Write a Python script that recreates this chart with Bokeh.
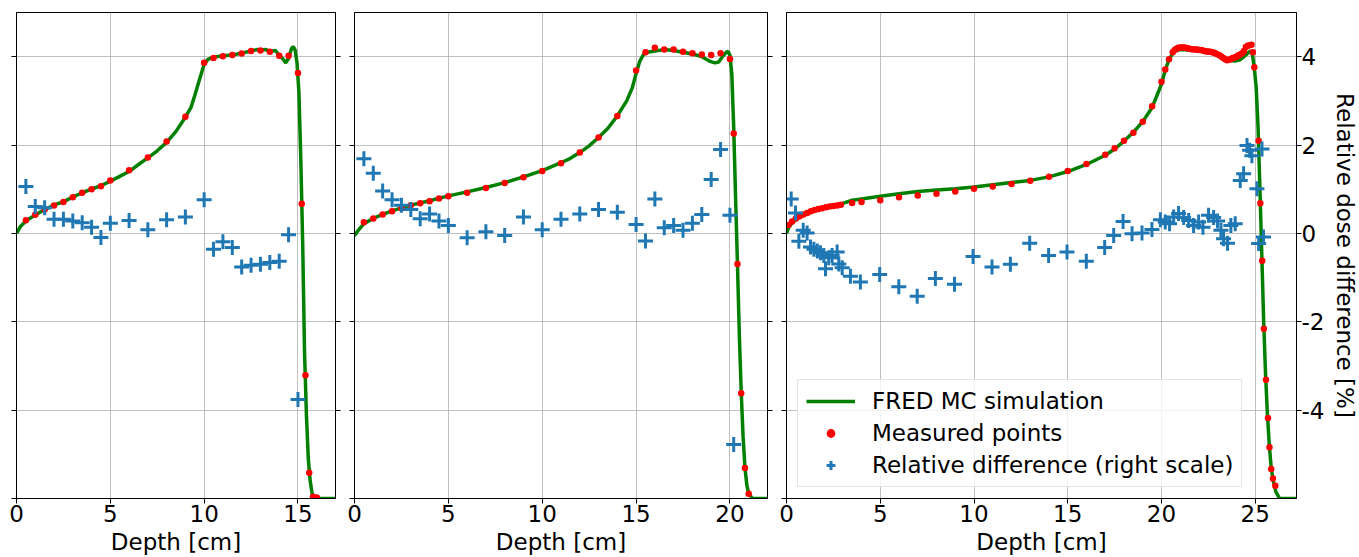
from bokeh.plotting import figure
from bokeh.models import (Range1d, LinearAxis, FixedTicker, SingleIntervalTicker,
                          Legend, LegendItem)
from bokeh.layouts import row
from bokeh.embed import file_html
from bokeh.resources import INLINE

# ---------------- data ----------------
# Panel 1
sim1_x = [0, 0.2, 0.5, 1, 1.5, 2, 2.5, 3, 3.5, 4, 4.5, 5, 5.5, 6, 6.5, 7, 7.5, 8, 8.5, 9,
          9.3, 9.5, 9.8, 10.0, 10.2, 10.5, 11, 11.5, 12, 12.5, 12.8, 13, 13.3, 13.5, 13.8,
          14.0, 14.2, 14.35, 14.5, 14.65, 14.75, 14.85, 14.95, 15.05, 15.15, 15.25, 15.35,
          15.45, 15.55, 15.65, 15.75, 15.85, 16.0, 17.0]
sim1_d = [0.600, 0.615, 0.628, 0.642, 0.654, 0.664, 0.672, 0.682, 0.692, 0.700, 0.708, 0.718,
          0.729, 0.740, 0.756, 0.771, 0.787, 0.806, 0.831, 0.863,
          0.885, 0.912, 0.955, 0.983, 0.994, 0.999, 1.002, 1.004, 1.008, 1.013, 1.016, 1.015,
          1.016, 1.012, 1.014,
          1.003, 0.995, 0.986, 0.996, 1.018, 1.023, 1.015, 0.985, 0.920, 0.770, 0.580, 0.330,
          0.190, 0.090, 0.040, 0.012, 0.004, 0.0, 0.0]
meas1_x = [0.5, 1.0, 1.5, 2.0, 2.5, 3.0, 3.5, 4.0, 4.5, 5.0, 6.0, 7.0, 8.0, 9.0, 10.0, 10.5,
           11.0, 11.5, 12.0, 12.5, 13.0, 13.5, 14.0, 14.5, 15.0, 15.2, 15.4, 15.6, 15.8, 16.0]
meas1_d = [0.630, 0.642, 0.654, 0.663, 0.671, 0.682, 0.692, 0.700, 0.707, 0.720, 0.743, 0.772,
           0.808, 0.864, 0.986, 0.997, 1.001, 1.004, 1.007, 1.013, 1.014, 1.011, 1.002, 1.002,
           0.963, 0.667, 0.279, 0.058, 0.004, 0.002]
diff1_x = [0.5, 1.0, 1.5, 2.0, 2.5, 3.0, 3.5, 4.0, 4.5, 5.0, 6.0, 7.0, 8.0, 9.0, 10.0, 10.5,
           11.0, 11.5, 12.0, 12.5, 13.0, 13.5, 14.0, 14.5, 15.0]
diff1_v = [1.06, 0.61, 0.58, 0.32, 0.32, 0.28, 0.24, 0.14, -0.09, 0.23, 0.29, 0.08, 0.31, 0.37,
           0.76, -0.36, -0.19, -0.32, -0.76, -0.72, -0.70, -0.66, -0.63, -0.03, -3.76]

# Panel 2
sim2_x = [0, 0.2, 0.5, 1, 1.5, 2, 3, 4, 5, 6, 7, 8, 9, 10, 11, 11.5, 12, 12.5, 13, 13.5,
          14, 14.5, 14.8, 15.0, 15.2, 15.4, 15.6, 16, 16.5, 17, 17.5, 18, 18.5, 18.9, 19.2,
          19.4, 19.6, 19.8, 19.9, 20.0, 20.1, 20.2, 20.3, 20.4, 20.5, 20.6, 20.7, 20.8, 20.9,
          21.0, 21.2, 22]
sim2_d = [0.595, 0.607, 0.622, 0.634, 0.643, 0.651, 0.664, 0.674, 0.685, 0.694, 0.704, 0.715,
          0.728, 0.742, 0.760, 0.770, 0.783, 0.798, 0.817, 0.838, 0.866, 0.900, 0.930, 0.962,
          0.990, 1.005, 1.010, 1.013, 1.016, 1.014, 1.010, 1.006, 1.000, 0.990, 0.986, 0.988,
          1.000, 1.010, 1.012, 1.003, 0.960, 0.840, 0.680, 0.530, 0.370, 0.240, 0.140, 0.070,
          0.030, 0.011, 0.0, 0.0]
meas2_x = [0.5, 1, 1.5, 2, 2.5, 3, 3.5, 4, 4.5, 5, 6, 7, 8, 9, 10, 11, 12, 13, 14, 15, 15.5,
           16, 16.5, 17, 17.5, 18, 18.5, 19, 19.5, 20, 20.2, 20.4, 20.6, 20.8, 21.0]
meas2_d = [0.625, 0.634, 0.643, 0.650, 0.657, 0.664, 0.668, 0.673, 0.679, 0.684, 0.692, 0.703,
           0.714, 0.727, 0.741, 0.759, 0.783, 0.817, 0.866, 0.969, 1.010, 1.020, 1.016, 1.016,
           1.011, 1.008, 1.005, 1.004, 1.008, 0.995, 0.826, 0.531, 0.238, 0.069, 0.011]
diff2_x = [0.5, 1, 1.5, 2, 2.5, 3, 3.5, 4, 4.5, 5, 6, 7, 8, 9, 10, 11, 12, 13, 14, 15, 15.5,
           16, 16.5, 17, 17.5, 18, 18.5, 19, 19.5, 20, 20.2]
diff2_v = [1.69, 1.36, 0.96, 0.76, 0.64, 0.54, 0.33, 0.44, 0.28, 0.18, -0.10, 0.04, -0.05, 0.37,
           0.08, 0.32, 0.44, 0.54, 0.48, 0.20, -0.17, 0.78, 0.13, 0.18, 0.07, 0.23, 0.43, 1.22,
           1.90, 0.41, -4.78]

# Panel 3
sim3_x = [0, 0.1, 0.3, 0.6, 1.0, 1.5, 2.0, 2.5, 3.0, 3.5, 4, 5, 6, 7, 8, 9, 10, 11, 12, 13,
          14, 15, 16, 17, 17.5, 18, 18.5, 19, 19.5, 20, 20.2, 20.4, 20.6, 20.8, 21.0, 21.5, 22,
          22.5, 23, 23.3, 23.6, 23.9, 24.2, 24.4, 24.6, 24.75, 24.85, 24.95, 25.05, 25.15,
          25.25, 25.35, 25.45, 25.55, 25.65, 25.75, 25.85, 25.95, 26.1, 26.3, 27.2]
sim3_d = [0.600, 0.612, 0.624, 0.634, 0.643, 0.651, 0.658, 0.663, 0.668, 0.675, 0.678, 0.684,
          0.690, 0.695, 0.698, 0.701, 0.705, 0.710, 0.715, 0.720, 0.728, 0.740, 0.756, 0.777,
          0.791, 0.809, 0.829, 0.853, 0.885, 0.938, 0.970, 0.993, 1.008, 1.014, 1.016, 1.015,
          1.013, 1.010, 1.004, 0.998, 0.992, 0.990, 0.993, 1.000, 1.008, 1.013, 1.005, 0.975,
          0.930, 0.840, 0.700, 0.550, 0.400, 0.280, 0.190, 0.120, 0.070, 0.042, 0.015, 0.0, 0.0]
meas3_x = [0.1, 0.3, 0.5, 0.7, 0.9, 1.1, 1.3, 1.5, 1.7, 1.9, 2.1, 2.3, 2.5, 2.7, 2.9, 3.5, 4,
           5, 6, 7, 8, 9, 10, 11, 12, 13, 14, 15, 16, 17, 17.5, 18, 18.5, 19, 19.5, 20, 20.2,
           20.4, 20.6, 20.7, 20.8, 20.9, 21.0, 21.1, 21.2, 21.3, 21.4, 21.5, 21.6, 21.7, 21.8,
           21.9, 22.0, 22.1, 22.2, 22.3, 22.4, 22.5, 22.6, 22.7, 22.8, 22.9, 23.0, 23.1, 23.2,
           23.3, 23.4, 23.5, 23.6, 23.7, 23.8, 23.9, 24.0, 24.1, 24.2, 24.3, 24.4, 24.5, 24.6,
           24.7, 24.8, 24.87, 24.95, 25.18, 25.27, 25.37, 25.46, 25.57, 25.68, 25.76, 25.85,
           25.94, 26.07]
meas3_d = [0.619, 0.627, 0.634, 0.639, 0.643, 0.646, 0.650, 0.653, 0.655, 0.657, 0.659, 0.661,
           0.662, 0.663, 0.665, 0.669, 0.671,
           0.675, 0.682, 0.686, 0.690, 0.695, 0.701, 0.706, 0.712, 0.719, 0.728, 0.741, 0.757,
           0.778, 0.793, 0.810, 0.828, 0.853, 0.888, 0.943, 0.971,
           0.994, 1.010, 1.015, 1.018, 1.020, 1.021, 1.021, 1.021, 1.020, 1.019, 1.018, 1.017,
           1.017, 1.016, 1.016, 1.015, 1.015, 1.014, 1.013, 1.012, 1.012, 1.011, 1.010, 1.009,
           1.007, 1.005, 1.003, 1.000, 0.997, 0.994, 0.992, 0.993, 0.995, 0.997, 0.998, 1.000,
           1.003, 1.005, 1.008, 1.013, 1.022, 1.025, 1.026, 1.027, 1.010, 0.976, 0.810, 0.668,
           0.538, 0.384, 0.269, 0.182, 0.116, 0.067, 0.045, 0.029]
diff3_x = [0.25, 0.48, 0.66, 0.89, 1.1, 1.28, 1.46, 1.64, 1.81, 1.99, 2.08, 2.25, 2.43, 2.7,
           2.79, 2.97, 3.41, 3.94, 4.97, 5.99, 6.97, 7.94, 8.96, 9.95, 10.96, 11.94, 12.97,
           13.98, 14.96, 15.99, 16.97, 17.45, 17.95, 18.43, 18.96, 19.49, 19.94, 20.2, 20.43,
           20.65, 20.91, 21.18, 21.45, 21.71, 21.98, 22.21, 22.51, 22.78, 22.99, 23.17, 23.31,
           23.52, 23.7, 23.93, 24.2, 24.38, 24.56, 24.7, 24.82, 25.09, 25.18, 25.36, 25.44]
diff3_v = [0.78, 0.46, -0.18, 0.07, 0.01, -0.31, -0.36, -0.40, -0.44, -0.50, -0.80, -0.55,
           -0.50, -0.42, -0.69, -0.78, -0.97, -1.10, -0.93, -1.21, -1.42, -1.02, -1.15, -0.52,
           -0.76, -0.70, -0.22, -0.50, -0.42, -0.63, -0.32, -0.05, 0.27, -0.01, 0.01, 0.09,
           0.31, 0.26, 0.22, 0.37, 0.45, 0.36, 0.29, 0.18, 0.26, 0.14, 0.41, 0.36, 0.28, 0.07,
           -0.12, -0.22, 0.18, 0.22, 1.20, 1.35, 1.99, 1.88, 1.76, 1.01, -0.23, 1.91, -0.08]

x_limits = [17.0, 22.0, 27.2]
dose_ticks = [0, 0.2, 0.4, 0.6, 0.8, 1.0]
diff_ticks = [-4, -2, 0, 2, 4]
diff_tick_labels = ["-4", "-2", "0", "2", "4"]
x_label = "Depth [cm]"
diff_label = "Relative dose difference [%]"
legend_labels = ["FRED MC simulation", "Measured points", "Relative difference (right scale)"]

# ---------------- style ----------------
FONT = "DejaVu Sans"
FS = "23px"
PX_PER_CM = 18.76
FRAME_H = 486
GREEN = "#008000"
RED = "#ff0000"
BLUE = "#1f77b4"
GRID = "#b0b0b0"


def style_axis(ax, show_labels):
    ax.axis_line_color = "black"
    ax.major_tick_line_color = "black"
    ax.minor_tick_line_color = None
    ax.major_tick_out = 5
    ax.major_tick_in = 0
    ax.major_label_text_font = FONT
    if show_labels:
        ax.major_label_text_color = "black"
        ax.major_label_text_font_size = FS
        ax.major_label_standoff = 1
    else:
        ax.major_label_text_color = None
        ax.major_label_text_font_size = "0px"
        ax.major_label_standoff = 0


def make_panel(xmax, sx, sd, mx, md, dx, dv, left_b, right_b, last):
    p = figure(frame_width=int(round(xmax * PX_PER_CM)), frame_height=FRAME_H,
               x_range=Range1d(0, xmax), y_range=Range1d(0, 1.1),
               output_backend="svg", toolbar_location=None,
               min_border_left=left_b, min_border_right=right_b,
               min_border_top=12, min_border_bottom=59,
               background_fill_color="white", border_fill_color="white")
    p.outline_line_color = "black"
    p.outline_line_alpha = 1.0
    p.extra_y_ranges = {"diff": Range1d(-6, 5)}

    p.xaxis.ticker = SingleIntervalTicker(interval=5)
    p.yaxis.ticker = FixedTicker(ticks=dose_ticks)
    style_axis(p.xaxis[0], True)
    style_axis(p.yaxis[0], False)
    xa = p.xaxis[0]
    xa.axis_label = x_label
    xa.axis_label_text_font = FONT
    xa.axis_label_text_font_size = FS
    xa.axis_label_text_font_style = "normal"
    xa.axis_label_text_color = "black"
    xa.axis_label_standoff = 4

    rax = LinearAxis(y_range_name="diff", ticker=FixedTicker(ticks=diff_ticks))
    style_axis(rax, last)
    if last:
        rax.major_label_standoff = 0
        rax.major_label_overrides = dict(zip(diff_ticks, diff_tick_labels))
        rax.axis_label = diff_label
        rax.axis_label_text_font = FONT
        rax.axis_label_text_font_size = FS
        rax.axis_label_text_font_style = "normal"
        rax.axis_label_text_color = "black"
        rax.axis_label_standoff = 5
    p.add_layout(rax, "right")

    p.xgrid.grid_line_color = GRID
    p.ygrid.grid_line_color = GRID
    p.xgrid.grid_line_alpha = 0.8
    p.ygrid.grid_line_alpha = 0.8

    ln = p.line(sx, sd, line_color=GREEN, line_width=3.5)
    pts = p.scatter(mx, md, marker="circle", size=6.5, fill_color=RED, line_color=None)
    crs = p.scatter(dx, dv, marker="cross", size=15, line_color=BLUE, line_width=3,
                    y_range_name="diff")

    if last:
        legend = Legend(items=[LegendItem(label=legend_labels[0], renderers=[ln]),
                               LegendItem(label=legend_labels[1], renderers=[pts]),
                               LegendItem(label=legend_labels[2], renderers=[crs])],
                        location=(11, 11))
        legend.label_text_font = FONT
        legend.label_text_font_size = FS
        legend.label_text_color = "black"
        legend.glyph_width = 49
        legend.glyph_height = 22
        legend.label_standoff = 17
        legend.padding = 8
        legend.spacing = 6
        legend.margin = 0
        legend.border_line_color = "#cccccc"
        legend.border_line_width = 1
        legend.background_fill_alpha = 0.8
        p.add_layout(legend)
    return p


p1 = make_panel(x_limits[0], sim1_x, sim1_d, meas1_x, meas1_d, diff1_x, diff1_v, 16, 10, False)
p2 = make_panel(x_limits[1], sim2_x, sim2_d, meas2_x, meas2_d, diff2_x, diff2_v, 9, 10, False)
p3 = make_panel(x_limits[2], sim3_x, sim3_d, meas3_x, meas3_d, diff3_x, diff3_v, 9, 10, True)

layout = row(p1, p2, p3, spacing=0)
open("out.html", "w").write(file_html(layout, INLINE))
